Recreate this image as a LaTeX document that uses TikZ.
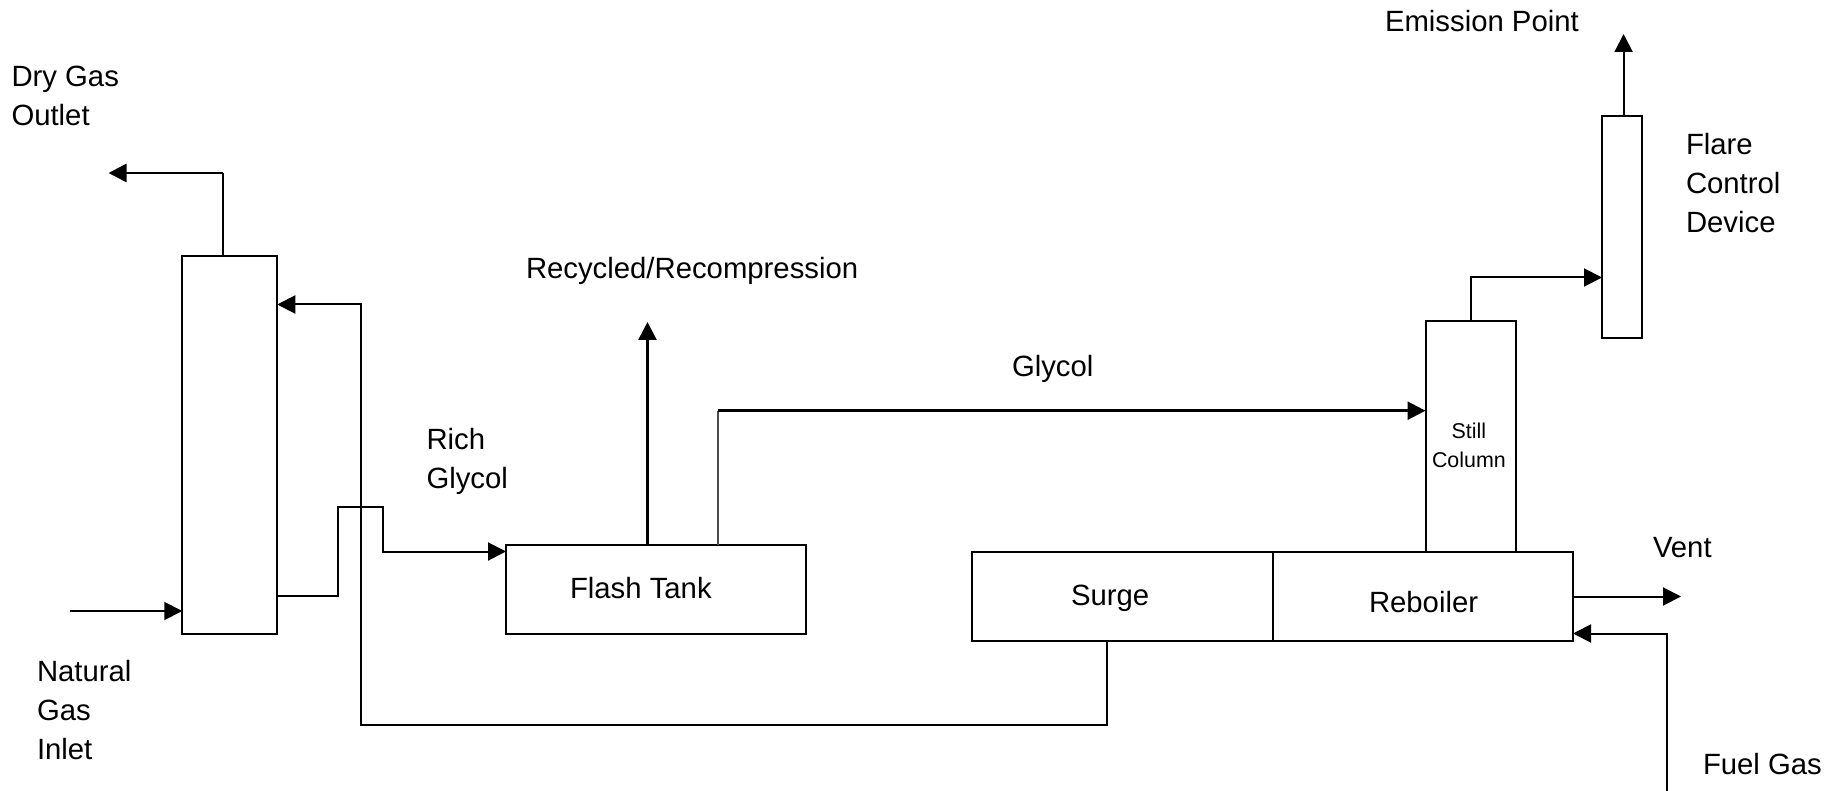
\documentclass[tikz,border=0pt]{standalone}
\usepackage{fontspec}
\setmainfont{Liberation Sans}
\usetikzlibrary{arrows.meta,calc}
\tikzset{
  unit box/.style={draw,line width=1pt,inner sep=0pt,outer sep=0pt,fill=none},
  flow/.style={line width=1pt,-{Triangle[length=9pt,width=9pt]}},
  heavyflow/.style={line width=1.3pt,-{Triangle[length=9pt,width=9pt]}},
  plainline/.style={line width=1pt},
  greyline/.style={line width=0.8pt,black!70},
  lbl/.style={inner sep=0pt,outer sep=0pt,anchor=base west,align=left,font=\fontsize{14.65}{19.5}\selectfont},
  smalllbl/.style={inner sep=0pt,outer sep=0pt,anchor=base west,align=center,font=\fontsize{10.7}{14}\selectfont},
}
\newcommand{\boxat}[5]{\node[unit box,minimum width=#4*0.5pt,minimum height=#5*0.5pt] (#1) at (#2,#3) {};}
\begin{document}
\begin{tikzpicture}[x=0.5pt,y=-0.5pt]
\useasboundingbox (0,0) rectangle (1844,791);
% equipment
\boxat{absorber}{229.75}{445}{95}{377}
\boxat{flash}{656}{589}{300}{89}
\boxat{surge}{1122}{596.25}{301}{89.5}
\boxat{reboiler}{1422.75}{596.25}{300.5}{89.5}
\boxat{still}{1470.75}{436.5}{90.5}{230}
\boxat{flare}{1622}{227.25}{40}{222.5}
% free ends and bends
\coordinate (dryturn) at (222.7,173);
\coordinate (dryend) at (108.5,173);
\coordinate (inletstart) at (69.5,611);
\coordinate (retturn) at (361,304.5);
\coordinate (retlow) at (361,725);
\coordinate (surgedrop) at (1106.5,725);
\coordinate (rich1) at (338,596);
\coordinate (rich2) at (338,507);
\coordinate (rich3) at (383,507);
\coordinate (rich4) at (383,551.5);
\coordinate (recycleend) at (647.5,322);
\coordinate (gly1) at (718,410.7);
\coordinate (stillturn) at (1470.7,277.5);
\coordinate (emitend) at (1623.6,34);
\coordinate (ventend) at (1681,596.5);
\coordinate (fuelstart) at (1667,791);
\coordinate (fuelturn) at (1667,633.5);
% connectors
\draw[plainline] (absorber.north -| dryturn) -- (dryturn);
\draw[heavyflow] (dryturn) -- (dryend);
\draw[flow] (inletstart) -- (inletstart -| absorber.west);
\draw[flow] (surge.south -| surgedrop) -- (surgedrop) -- (retlow) -- (retturn) -- (retturn -| absorber.east);
\draw[flow] (rich1 -| absorber.east) -- (rich1) -- (rich2) -- (rich3) -- (rich4) -- (rich4 -| flash.west);
\draw[heavyflow] (flash.north -| recycleend) -- (recycleend);
\draw[greyline] (flash.north -| gly1) -- (gly1);
\draw[heavyflow] (gly1) -- (gly1 -| still.west);
\draw[flow] (still.north -| stillturn) -- (stillturn) -- (stillturn -| flare.west);
\draw[flow] (flare.north -| emitend) -- (emitend);
\draw[flow] (ventend -| reboiler.east) -- (ventend);
\draw[flow] (fuelstart) -- (fuelturn) -- (fuelturn -| reboiler.east);
% labels
\node[lbl] (tdry) at (11.5,125.5) {Dry Gas\\Outlet};
\node[lbl] (tnat) at (37,759) {Natural\\Gas\\Inlet};
\node[lbl] (trec) at (526,278.5) {Recycled/Recompression};
\node[lbl] (trich) at (426.5,488) {Rich\\Glycol};
\node[lbl] (tflash) at (570,598.5) {Flash Tank};
\node[lbl] (temit) at (1385,32) {Emission Point};
\node[lbl] (tflare) at (1686,233) {Flare\\Control\\Device};
\node[lbl] (tgly) at (1012,376.5) {Glycol};
\node[smalllbl] (tstill) at (1432,467) {Still\\Column};
\node[lbl] (tsurge) at (1071,605.5) {Surge};
\node[lbl] (treb) at (1369,612.5) {Reboiler};
\node[lbl] (tvent) at (1653,558) {Vent};
\node[lbl] (tfuel) at (1703,774.5) {Fuel Gas};
\end{tikzpicture}
\end{document}
